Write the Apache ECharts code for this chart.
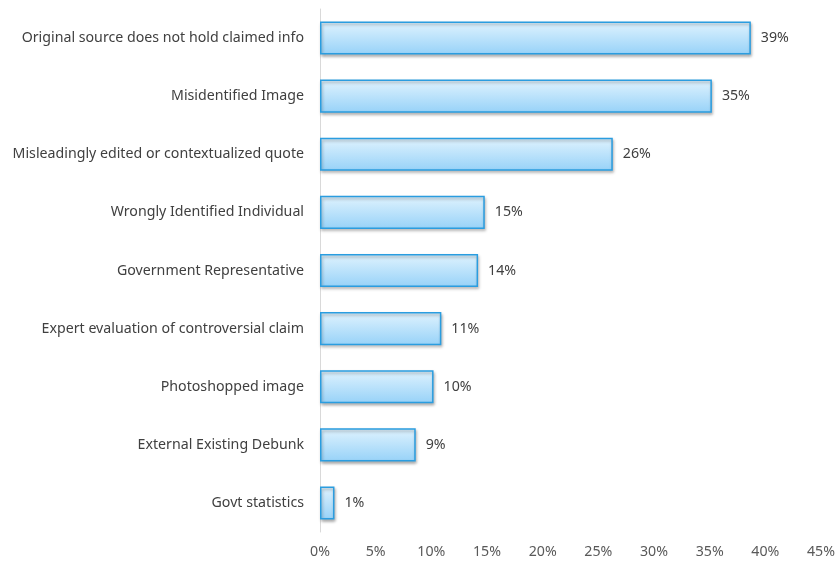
<!DOCTYPE html>
<html>
<head>
<meta charset="utf-8">
<script src="https://cdn.jsdelivr.net/npm/echarts@6/dist/echarts.min.js"></script>
<style>
html,body{margin:0;padding:0;background:#fff;}
#c{width:838px;height:562px;}
</style>
</head>
<body>
<div id="c"></div>
<script>
const categories = [
  "Original source does not hold claimed info",
  "Misidentified Image",
  "Misleadingly edited or contextualized quote",
  "Wrongly Identified Individual",
  "Government Representative",
  "Expert evaluation of controversial claim",
  "Photoshopped image",
  "External Existing Debunk",
  "Govt statistics"
];
const values = [38.7, 35.2, 26.3, 14.8, 14.2, 10.9, 10.2, 8.6, 1.3];
const labelValues = [39, 35, 26, 15, 14, 11, 10, 9, 1];

const chart = echarts.init(document.getElementById('c'));
const font = 'Noto Sans';
chart.setOption({
  animation: false,
  grid: {left: 320, right: 12, top: 9, bottom: 30, containLabel: false},
  xAxis: {
    type: 'value', min: 0, max: 45, interval: 5,
    axisLine: {show: false}, axisTick: {show: false}, splitLine: {show: false},
    axisLabel: {formatter: '{value}%', color: '#595959', fontFamily: font, fontSize: 14.2, margin: 13}
  },
  yAxis: {
    type: 'category', inverse: true, data: categories,
    axisLine: {show: true, lineStyle: {color: '#d9d9d9', width: 1}},
    axisTick: {show: false},
    axisLabel: {color: '#404040', fontFamily: font, fontSize: 14.2, margin: 16}
  },
  series: [{
    type: 'bar',
    data: values,
    barWidth: '57%',
    itemStyle: {
      color: new echarts.graphic.LinearGradient(0, 0, 0, 1, [
        {offset: 0, color: '#e0f3fe'},
        {offset: 1, color: '#97d2f8'}
      ]),
      borderColor: '#2a9de0',
      borderWidth: 1.5,
      shadowColor: 'rgba(0,0,0,0.3)',
      shadowBlur: 3,
      shadowOffsetX: 1,
      shadowOffsetY: 2
    },
    label: {
      show: true, position: 'right', distance: 10,
      color: '#404040', fontFamily: font, fontSize: 14.2,
      formatter: p => labelValues[p.dataIndex] + '%'
    }
  }]
});
</script>
</body>
</html>
